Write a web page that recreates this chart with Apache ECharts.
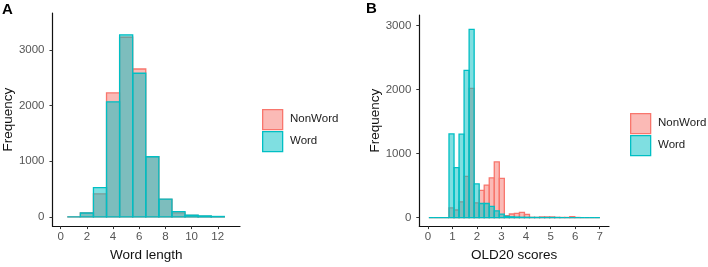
<!DOCTYPE html>
<html>
<head>
<meta charset="utf-8">
<script src="https://cdn.jsdelivr.net/npm/echarts@6/dist/echarts.min.js"></script>
<style>
html,body{margin:0;padding:0;background:#fff;}
#c{width:708px;height:267px;}
</style>
</head>
<body>
<div id="c"></div>
<script>
// ---------- Panel A: Word length (bin width 1, bins centred on integers) ----------
var lengthBinCenters = [1, 2, 3, 4, 5, 6, 7, 8, 9, 10, 11, 12];
var lengthNonWord    = [0, 70, 415, 2225, 3225, 2655, 1080, 315, 72, 25, 12, 5];
var lengthWord       = [0, 70, 526, 2065, 3269, 2579, 1080, 320, 96, 30, 18, 8];
var lengthXTicks = [0, 2, 4, 6, 8, 10, 12];
var lengthYTicks = [0, 1000, 2000, 3000];

// ---------- Panel B: OLD20 scores ----------
var oldBinStarts = [0.040, 0.245, 0.450, 0.655, 0.860, 1.065, 1.270, 1.475, 1.680, 1.885,
                    2.090, 2.295, 2.500, 2.705, 2.910, 3.115, 3.320, 3.525, 3.730, 3.935,
                    4.140, 4.345, 4.550, 4.755, 4.960, 5.165, 5.370, 5.575, 5.780, 5.985,
                    6.190, 6.395, 6.600, 6.805];
var oldBinWidth = 0.205;
var oldNonWord = [0, 0, 0, 0, 150, 118, 245, 643, 2016, 230,
                  425, 508, 620, 869, 613, 30, 56, 66, 82, 51,
                  4, 3, 10, 10, 10, 3, 2, 2, 15, 2,
                  0, 0, 0, 0];
var oldWord    = [0, 0, 0, 0, 1306, 781, 1302, 2297, 2940, 525,
                  220, 220, 175, 105, 55, 20, 12, 8, 5, 4,
                  2, 2, 1, 1, 1, 1, 0, 0, 0, 0,
                  0, 0, 0, 0];
var oldXTicks = [0, 1, 2, 3, 4, 5, 6, 7];
var oldYTicks = [0, 1000, 2000, 3000];

var seriesNames = ['NonWord', 'Word'];
var RED = '#F8766D', TEAL = '#00BFC4';
var RED_FILL = 'rgba(248,118,109,0.5)', TEAL_FILL = 'rgba(0,191,196,0.5)';

function makeRender(fill, stroke) {
  return function (params, api) {
    var x0 = api.value(0), x1 = api.value(1), v = api.value(2);
    var pTop = api.coord([x0, v]);
    var pBot = api.coord([x1, 0]);
    return {
      type: 'rect',
      shape: { x: pTop[0], y: pTop[1], width: pBot[0] - pTop[0], height: pBot[1] - pTop[1] },
      style: { fill: fill, stroke: stroke, lineWidth: 1.3 }
    };
  };
}

function binsA(values) {
  return lengthBinCenters.map(function (c, i) { return [c - 0.5, c + 0.5, values[i]]; });
}
function binsB(values) {
  return oldBinStarts.map(function (s, i) { return [s, s + oldBinWidth, values[i]]; });
}

var FONT = 'Liberation Sans, Arial, sans-serif';
function plain(v) { return String(v); }

function xAxisCfg(gridIndex, min, max, ticks, name, gap) {
  return {
    type: 'value', gridIndex: gridIndex, min: min, max: max,
    name: name, nameLocation: 'middle', nameGap: gap,
    nameTextStyle: { fontFamily: FONT, fontSize: 13.5, color: '#111' },
    axisLine: { show: true, onZero: false, lineStyle: { color: '#111', width: 1.2 } },
    axisTick: { show: true, length: 3, customValues: ticks, lineStyle: { color: '#333', width: 1 } },
    axisLabel: { customValues: ticks, formatter: plain, margin: 5, fontFamily: FONT, fontSize: 11.5, color: '#555' },
    splitLine: { show: false }
  };
}
function yAxisCfg(gridIndex, min, max, ticks, name, gap) {
  return {
    type: 'value', gridIndex: gridIndex, min: min, max: max,
    name: name, nameLocation: 'middle', nameGap: gap,
    nameTextStyle: { fontFamily: FONT, fontSize: 13.5, color: '#111' },
    axisLine: { show: true, onZero: false, lineStyle: { color: '#111', width: 1.2 } },
    axisTick: { show: true, length: 3, customValues: ticks, lineStyle: { color: '#333', width: 1 } },
    axisLabel: { customValues: ticks, formatter: plain, margin: 8, fontFamily: FONT, fontSize: 11.5, color: '#555' },
    splitLine: { show: false }
  };
}

function legendGraphics(x, y) {
  return [
    { type: 'rect', left: x, top: y, shape: { width: 20, height: 20 },
      style: { fill: RED_FILL, stroke: RED, lineWidth: 1.3 } },
    { type: 'rect', left: x, top: y + 22, shape: { width: 20, height: 20 },
      style: { fill: TEAL_FILL, stroke: TEAL, lineWidth: 1.3 } },
    { type: 'text', left: x + 28, top: y + 4,
      style: { text: seriesNames[0], fontFamily: FONT, fontSize: 11.5, fill: '#222' } },
    { type: 'text', left: x + 28, top: y + 26,
      style: { text: seriesNames[1], fontFamily: FONT, fontSize: 11.5, fill: '#222' } }
  ];
}

var chart = echarts.init(document.getElementById('c'), null, { renderer: 'canvas' });
chart.setOption({
  animation: false,
  backgroundColor: '#fff',
  grid: [
    { left: 49.5, top: 13, right: 468, bottom: 38 },
    { left: 419.3, top: 15, right: 99, bottom: 37 }
  ],
  xAxis: [
    xAxisCfg(0, -0.63, 13.7, lengthXTicks, 'Word length', 20),
    xAxisCfg(1, -0.35, 7.38, oldXTicks, 'OLD20 scores', 20)
  ],
  yAxis: [
    yAxisCfg(0, -165, 3660, lengthYTicks, 'Frequency', 34),
    yAxisCfg(1, -133, 3163, oldYTicks, 'Frequency', 34)
  ],
  series: [
    { type: 'custom', name: seriesNames[0], xAxisIndex: 0, yAxisIndex: 0,
      renderItem: makeRender(RED_FILL, RED), data: binsA(lengthNonWord), encode: { x: [0, 1], y: 2 } },
    { type: 'custom', name: seriesNames[1], xAxisIndex: 0, yAxisIndex: 0,
      renderItem: makeRender(TEAL_FILL, TEAL), data: binsA(lengthWord), encode: { x: [0, 1], y: 2 } },
    { type: 'custom', name: seriesNames[0], xAxisIndex: 1, yAxisIndex: 1,
      renderItem: makeRender(RED_FILL, RED), data: binsB(oldNonWord), encode: { x: [0, 1], y: 2 } },
    { type: 'custom', name: seriesNames[1], xAxisIndex: 1, yAxisIndex: 1,
      renderItem: makeRender(TEAL_FILL, TEAL), data: binsB(oldWord), encode: { x: [0, 1], y: 2 } }
  ],
  graphic: [
    { type: 'text', left: 2, top: 2, style: { text: 'A', fontFamily: FONT, fontSize: 15, fontWeight: 'bold', fill: '#000' } },
    { type: 'text', left: 366, top: 1, style: { text: 'B', fontFamily: FONT, fontSize: 15, fontWeight: 'bold', fill: '#000' } }
  ].concat(legendGraphics(262, 109)).concat(legendGraphics(630, 113))
});
</script>
</body>
</html>
